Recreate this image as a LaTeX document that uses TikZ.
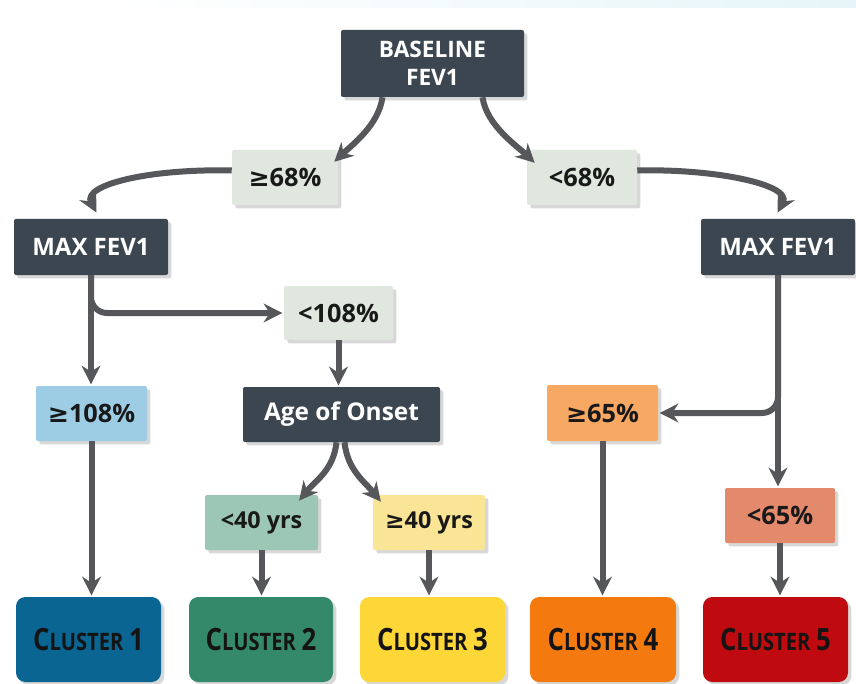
\documentclass[tikz,border=0pt]{standalone}
\usepackage{fontspec}
\setmainfont{Open Sans}
\newfontfamily\symf{DejaVu Sans}
\usetikzlibrary{arrows.meta,shadows,calc}
\definecolor{darkbox}{HTML}{3C4651}
\definecolor{lightbox}{HTML}{DFE7DF}
\definecolor{arrowc}{HTML}{56575B}
\definecolor{blueL}{HTML}{9DCDE5}
\definecolor{sage}{HTML}{9CC6B5}
\definecolor{yel}{HTML}{FAE596}
\definecolor{orL}{HTML}{F7A862}
\definecolor{salmon}{HTML}{E3896C}
\definecolor{cA}{HTML}{0B6592}
\definecolor{cB}{HTML}{35896B}
\definecolor{cC}{HTML}{FDD638}
\definecolor{cD}{HTML}{F47A10}
\definecolor{cE}{HTML}{BF0A0F}
\definecolor{bandc}{HTML}{E6F5F9}
\newcommand{\gq}{{\symf\bfseries ≥}}
\newcommand{\clu}[1]{\scalebox{0.84}[1]{{\fontsize{23}{26}\selectfont C}{\fontsize{18}{26}\selectfont LUSTER}\hspace{5pt}{\fontsize{23}{26}\selectfont #1}}}
\tikzset{
  sz/.style 2 args={minimum width=#1*0.75pt, minimum height=#2*0.75pt},
  box/.style={rectangle, rounded corners=1.5pt, inner sep=0pt, align=center,
    drop shadow={shadow xshift=2.5pt, shadow yshift=-2.5pt, opacity=0.3}},
  dk/.style={box, fill=darkbox, text=white, font=\bfseries\fontsize{17}{21}\selectfont},
  lt/.style={box, fill=lightbox, text=black!90, font=\bfseries\fontsize{19}{21}\selectfont},
  yrs/.style={font=\bfseries\fontsize{17.5}{21}\selectfont},
  cl/.style={box, rounded corners=7pt, text=black!92, font=\bfseries},
  arr/.style={draw=arrowc, line width=4.5pt, shorten >=1pt,
    -{Stealth[length=14pt,width=14pt,inset=4.5pt]}}
}
\begin{document}
\begin{tikzpicture}[x=0.75pt,y=-0.75pt]
\useasboundingbox (0,0) rectangle (856,684);
\fill[white] (0,0) rectangle (856,684);
\shade[left color=white, right color=bandc] (120,0) rectangle (856,8);

% nodes
\node[dk, sz={183}{67}] (base) at (432.5,63.5) {BASELINE\\FEV1};
\node[lt, sz={106}{55}] (ge68) at (285,177.5) {\gq68\%};
\node[lt, sz={110}{55}] (lt68) at (582,177.5) {<68\%};
\node[dk, sz={154}{56}, font=\bfseries\fontsize{18}{21}\selectfont] (maxL) at (91,247) {MAX FEV1};
\node[dk, sz={154}{56}, font=\bfseries\fontsize{18}{21}\selectfont] (maxR) at (778,247) {MAX FEV1};
\node[lt, sz={109}{54}] (lt108) at (338.5,313) {<108\%};
\node[lt, sz={111}{55}, fill=blueL] (ge108) at (91.5,413.5) {\gq108\%};
\node[dk, sz={197}{55}, font=\bfseries\fontsize{18.3}{21}\selectfont] (age) at (341.5,414.5) {Age of Onset};
\node[lt, yrs, sz={113}{55}, fill=sage] (lt40) at (261.5,522.5) {<40 yrs};
\node[lt, yrs, sz={112}{55}, fill=yel] (ge40) at (429,522.5) {\gq40 yrs};
\node[lt, sz={111}{56}, fill=orL] (ge65) at (602.5,413) {\gq65\%};
\node[lt, sz={110}{55}, fill=salmon] (lt65) at (780,515.5) {<65\%};
\node[cl, sz={145}{85}, fill=cA] (c1) at (88.5,639.5) {\clu{1}};
\node[cl, sz={144}{85}, fill=cB] (c2) at (261,639.5) {\clu{2}};
\node[cl, sz={145}{85}, fill=cC] (c3) at (432.5,639.5) {\clu{3}};
\node[cl, sz={146}{85}, fill=cD] (c4) at (603,639.5) {\clu{4}};
\node[cl, sz={145}{85}, fill=cE] (c5) at (775.5,639.5) {\clu{5}};

% connectors
\draw[arr] ($(base.south)+(-50,0)$) .. controls +(-4,28) and +(19,-18) .. ($(ge68.north east)+(-5,13)$);
\draw[arr] ($(base.south)+(50,0)$) .. controls +(4,28) and +(-19,-18) .. ($(lt68.north west)+(9,14)$);
\draw[arr] ($(ge68.west)+(0,-7)$) .. controls +(-82,-2) and +(-15,-29) .. ($(maxL.north)+(6,-5)$);
\draw[arr] ($(lt68.east)+(0,-7)$) .. controls +(78,-2) and +(15,-29) .. ($(maxR.north)+(-1,-5)$);
\draw[arr] (maxL.south) -- (maxL.south |- ge108.north);
\draw[arr, rounded corners=12pt] (maxL.south) |- (lt108.west);
\draw[arr] (lt108.south) -- (lt108.south |- age.north);
\draw[arr] ($(age.south)+(-5,0)$) .. controls +(-3,28) and +(17,-21) .. ($(lt40.north east)+(-20,7)$);
\draw[arr] ($(age.south)+(3,0)$) .. controls +(3,28) and +(-17,-21) .. ($(ge40.north west)+(9,8)$);
\draw[arr] (maxR.south) -- (maxR.south |- lt65.north);
\draw[arr, rounded corners=12pt] (maxR.south) |- (ge65.east);
\draw[arr] (ge108.south) -- (ge108.south |- c1.north);
\draw[arr] (lt40.south) -- (lt40.south |- c2.north);
\draw[arr] (ge40.south) -- (ge40.south |- c3.north);
\draw[arr] (ge65.south) -- (ge65.south |- c4.north);
\draw[arr] (lt65.south) -- (lt65.south |- c5.north);
\end{tikzpicture}
\end{document}
